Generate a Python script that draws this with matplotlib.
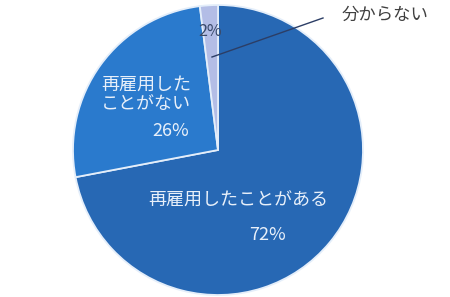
import matplotlib
matplotlib.use("Agg")
import matplotlib.pyplot as plt

plt.rcParams["font.family"] = ["Noto Sans CJK JP", "DejaVu Sans"]

categories = ["再雇用したことがある", "再雇用したことがない", "分からない"]
shares = [72, 26, 2]
colors = ["#2768b4", "#2a7acd", "#b3bde6"]

W, H = 450, 297
CX, CY, R = 218, 150, 145


def to_data(px, py):
    """Pixel position in the picture -> pie data coordinates."""
    return (px - CX) / R, (CY - py) / R


fig = plt.figure(figsize=(W / 100, H / 100), dpi=100)
ax = fig.add_axes([(CX - R) / W, (H - CY - R) / H, 2 * R / W, 2 * R / H])
ax.pie(
    shares,
    colors=colors,
    startangle=90,
    counterclock=False,
    wedgeprops=dict(edgecolor="#e4eefa", linewidth=1.3),
)
ax.set_xlim(-1, 1)
ax.set_ylim(-1, 1)
ax.set_aspect("auto")
ax.axis("off")

light = "#e8f0fa"
dark = "#404040"
fs = 13

# big slice
ax.text(*to_data(238, 201), categories[0], color=light, fontsize=fs,
        ha="center", va="center")
ax.text(*to_data(267, 235), f"{shares[0]}%", color=light, fontsize=fs,
        ha="center", va="center")

# left slice
ax.text(*to_data(191, 85), "再雇用した", color=light, fontsize=fs,
        ha="right", va="center")
ax.text(*to_data(191, 104), "ことがない", color=light, fontsize=fs,
        ha="right", va="center")
ax.text(*to_data(189, 131), f"{shares[1]}%", color=light, fontsize=fs,
        ha="right", va="center")

# small slice
ax.text(*to_data(210, 32), f"{shares[2]}%", color="#3a4a6a", fontsize=11.5,
        ha="center", va="center", clip_on=False)
x0, y0 = to_data(212, 57)
x1, y1 = to_data(323, 18)
ax.plot([x0, x1], [y0, y1], color="#2c3e66", lw=1.0, clip_on=False)
ax.text(*to_data(385, 15), categories[2], color=dark, fontsize=12.5,
        ha="center", va="center", clip_on=False)

fig.savefig("out.png", dpi=100, facecolor="white")
